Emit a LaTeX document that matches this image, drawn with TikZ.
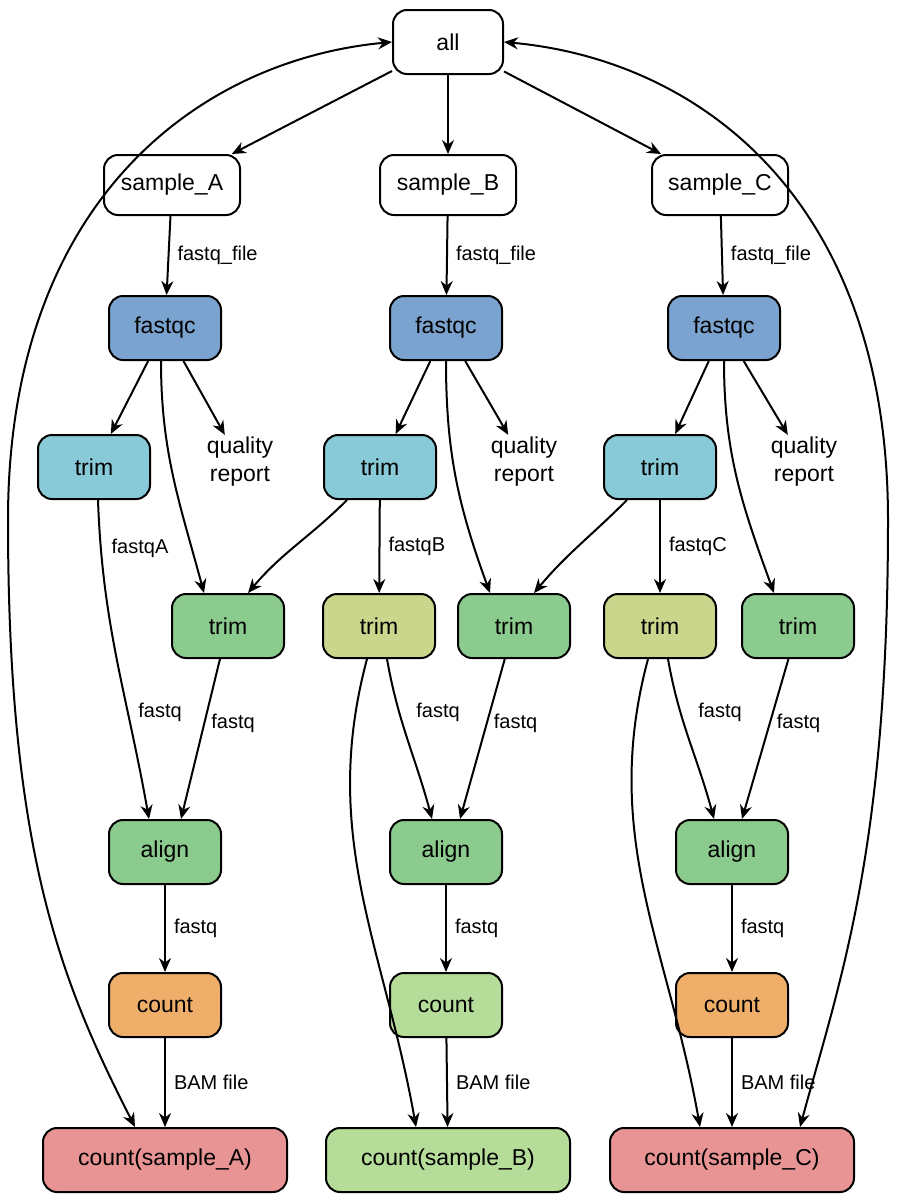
\documentclass[tikz,border=0pt]{standalone}
\usepackage{fontspec}
\setmainfont{Liberation Sans}
\usetikzlibrary{arrows.meta}
\definecolor{cblue}{HTML}{7BA3CF}
\definecolor{ccyan}{HTML}{88CAD8}
\definecolor{cgreen}{HTML}{8CCB8E}
\definecolor{clime}{HTML}{C9D68C}
\definecolor{corange}{HTML}{EFAE6A}
\definecolor{clgreen}{HTML}{B5DC98}
\definecolor{cred}{HTML}{E89494}
\tikzset{
 box/.style={draw=black,line width=1pt,rounded corners=7pt,minimum height=32pt,font=\fontsize{11.5}{13}\selectfont,inner sep=3pt},
 n56/.style={box,minimum width=56pt},
 lbl/.style={font=\fontsize{10}{12}\selectfont,inner sep=1pt},
 qr/.style={align=center,font=\fontsize{11.5}{14}\selectfont,inner sep=1pt},
 e/.style={draw=black,line width=1pt,-{Stealth[length=7pt,width=6pt]}},
 ee/.style={draw=black,line width=1pt,{Stealth[length=7pt,width=6pt]}-{Stealth[length=7pt,width=6pt]}},
}
\begin{document}
\begin{tikzpicture}[x=0.5pt,y=-0.5pt]
\useasboundingbox (0,0) rectangle (896,1200);
\node[box,fill=white,minimum width=55pt] (all) at (448,42) {all};
\foreach \s/\x in {A/172,B/448,C/720}{
 \node[box,fill=white,minimum width=68pt,minimum height=30pt] (s\s) at (\x,185) {sample\_\s};
}
\node[n56,fill=cblue] (fA) at (165,328) {fastqc};
\node[n56,fill=cblue] (fB) at (446,328) {fastqc};
\node[n56,fill=cblue] (fC) at (724,328) {fastqc};
\node[n56,fill=ccyan] (tA) at (94,467) {trim};
\node[n56,fill=ccyan] (tB) at (380,467) {trim};
\node[n56,fill=ccyan] (tC) at (660,467) {trim};
\node[qr] (qA) at (240,462) {quality\\report};
\node[qr] (qB) at (524,462) {quality\\report};
\node[qr] (qC) at (804,462) {quality\\report};
\node[n56,fill=cgreen] (gA) at (228,626) {trim};
\node[n56,fill=clime] (lB) at (379,626) {trim};
\node[n56,fill=cgreen] (gB) at (514,626) {trim};
\node[n56,fill=clime] (lC) at (660,626) {trim};
\node[n56,fill=cgreen] (gC) at (798,626) {trim};
\node[n56,fill=cgreen] (aA) at (165,852) {align};
\node[n56,fill=cgreen] (aB) at (446,852) {align};
\node[n56,fill=cgreen] (aC) at (732,852) {align};
\node[n56,fill=corange] (cA) at (165,1005) {count};
\node[n56,fill=clgreen] (cB) at (446,1005) {count};
\node[n56,fill=corange] (cC) at (732,1005) {count};
\node[box,fill=cred,minimum width=122pt] (xA) at (165,1160) {count(sample\_A)};
\node[box,fill=clgreen,minimum width=122pt] (xB) at (448,1160) {count(sample\_B)};
\node[box,fill=cred,minimum width=122pt] (xC) at (732,1160) {count(sample\_C)};
% top
\draw[e] (all) -- (sA);
\draw[e] (all) -- (sB);
\draw[e] (all) -- (sC);
\draw[ee] (all.west) .. controls (200,60) and (8,200) .. (8,520) .. controls (8,850) and (60,980) .. ([xshift=-15pt]xA.north);
\draw[ee] (all.east) .. controls (700,60) and (888,200) .. (888,520) .. controls (888,850) and (840,980) .. ([xshift=34pt]xC.north);
% sample -> fastqc
\foreach \s in {A,B,C}{
 \draw[e] (s\s) -- (f\s) node[lbl,midway,right=3pt] {fastq\_file};
 \draw[e] (f\s) -- (t\s);
 \draw[e] (f\s) -- (q\s);
 \draw[e] (a\s) -- (c\s) node[lbl,midway,right=3pt] {fastq};
 \draw[e] (c\s) -- (x\s) node[lbl,midway,right=3pt] {BAM file};
}
% A column
\draw[e] ([xshift=-2pt]fA.south) to[out=-90,in=105] ([xshift=-12pt]gA.north);
\draw[e] ([xshift=2pt]tA.south) to[out=-88,in=100] ([xshift=-8pt]aA.north);
\node[lbl] at (140,548) {fastqA};
\node[lbl] at (160,712) {fastq};
\draw[e] (gA) -- ([xshift=8pt]aA.north) node[lbl,pos=0.4,right=2pt] {fastq};
\draw[e] (tB) to[out=-135,in=50] ([xshift=10pt]gA.north);
% B column
\draw[e] (tB) -- (lB) node[lbl,midway,right=3pt] {fastqB};
\draw[e] ([xshift=0pt]fB.south) to[out=-90,in=110] ([xshift=-12pt]gB.north);
\draw[e] ([xshift=4pt]lB.south) to[out=-80,in=105] ([xshift=-7pt]aB.north);
\node[lbl] at (438,712) {fastq};
\draw[e] (gB) -- ([xshift=7pt]aB.north) node[lbl,pos=0.4,right=2pt] {fastq};
\draw[e] ([xshift=-6pt]lB.south) to[out=-105,in=100] ([xshift=-16pt]xB.north);
\draw[e] (tC) to[out=-135,in=50] ([xshift=10pt]gB.north);
% C column
\draw[e] (tC) -- (lC) node[lbl,midway,right=3pt] {fastqC};
\draw[e] ([xshift=0pt]fC.south) to[out=-90,in=110] ([xshift=-12pt]gC.north);
\draw[e] ([xshift=4pt]lC.south) to[out=-80,in=105] ([xshift=-9pt]aC.north);
\node[lbl] at (720,712) {fastq};
\draw[e] (gC) -- ([xshift=5pt]aC.north) node[lbl,pos=0.4,right=2pt] {fastq};
\draw[e] ([xshift=-6pt]lC.south) to[out=-105,in=100] ([xshift=-16pt]xC.north);
\end{tikzpicture}
\end{document}
